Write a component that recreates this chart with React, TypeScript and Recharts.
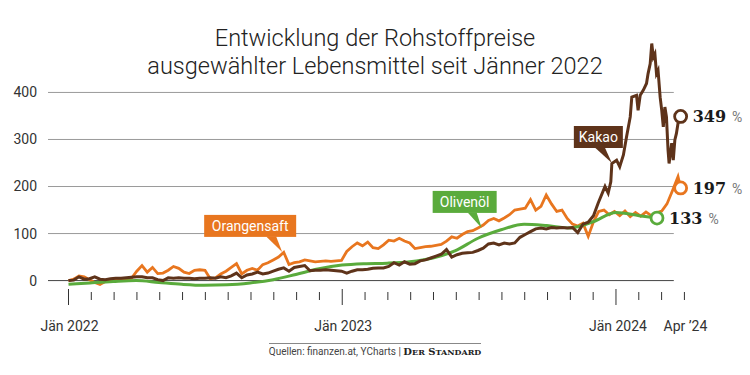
import React from 'react';
import { LineChart, Line, XAxis, YAxis, ReferenceLine, ReferenceDot } from 'recharts';

const ORANGE = '#e8761f';
const GREEN = '#5aab3c';
const BROWN = '#5e331a';

// Veränderung in % seit Jänner 2022, ein Wert pro Woche
const orangeWeekly = [
  0, 3, 10, 8, 2, -4, -8, -2, 0, 1,
  2, 3, 5, 20, 32, 18, 28, 15, 16, 22,
  30, 26, 18, 15, 22, 23, 22, 4, 6, 14,
  20, 28, 36, 14, 22, 26, 22, 34, 38, 44,
  50, 60, 34, 38, 40, 44, 42, 40, 41, 42,
  41, 42, 43, 62, 72, 80, 74, 82, 70, 68,
  76, 86, 84, 90, 84, 80, 68, 70, 72, 73,
  75, 77, 84, 93, 90, 98, 104, 106, 112, 118,
  128, 132, 127, 133, 140, 150, 152, 154, 172, 150,
  158, 182, 163, 147, 150, 132, 120, 116, 122, 94,
  125, 147, 150, 140, 147, 138, 148, 136, 145, 137,
  146, 138, 144, 148, 163, 190,
];
const orangeTail: [number, number][] = [[116.1, 221], [116.6, 197]];

const kakaoWeekly = [
  0, 1, 8, 3, 4, 8, 3, 2, 4, 5,
  5, 6, 7, 8, 8, 6, 6, 2, 0, 6,
  5, 6, 5, 5, 4, 5, 5, 6, 5, 8,
  6, 10, 16, 6, 12, 14, 18, 14, 16, 20,
  24, 27, 20, 28, 30, 32, 21, 22, 22, 23,
  22, 21, 20, 16, 20, 23, 23, 24, 26, 27,
  27, 30, 38, 33, 40, 35, 36, 42, 44, 48,
  52, 56, 66, 50, 55, 58, 59, 60, 64, 69,
  78, 80, 76, 80, 78, 80, 92, 98, 104, 110,
  112, 110, 113, 112, 113, 112, 113, 102, 120, 124,
  138,
];
const kakaoTail: [number, number][] = [
  [100.9, 165], [102.2, 200], [102.8, 186], [103.3, 210], [103.5, 249],
  [104.4, 256], [105.0, 242], [105.7, 267], [106.3, 306], [107.0, 348],
  [107.3, 390], [108.2, 394], [108.5, 362], [108.9, 394], [109.5, 405],
  [110.1, 419], [110.4, 440], [110.8, 461], [111.1, 504], [111.4, 475],
  [111.7, 482], [112.0, 440], [112.3, 447], [112.7, 390], [113.0, 362],
  [113.3, 327], [113.6, 369], [113.9, 348], [114.2, 278], [114.4, 249],
  [114.9, 292], [115.2, 256], [115.5, 299], [115.8, 313], [116.1, 334],
  [116.6, 349],
];

// Olivenöl: geglättet, ca. monatlich
const oliveWeeks = [0, 4.1, 8.5, 12.9, 17.2, 21.6, 25.8, 30.2, 34.6, 39.0, 43.3, 47.7, 52.1, 56.3, 60.7, 65.0, 69.4, 73.6, 78.0, 82.4, 86.8, 91.1, 95.5, 99.9, 104.3, 108.7, 112.1];
const oliveValues = [-8, -5, -2, 0, -4, -8, -10, -9, -5, 2, 13, 25, 33, 36, 37, 40, 48, 63, 90, 108, 120, 117, 112, 125, 145, 138, 133];

const callouts = [
  { name: 'Orangensaft', w: 40.7, v: 61, color: ORANGE, left: 78, right: 14, base: [-16, -6] },
  { name: 'Olivenöl', w: 78.7, v: 112, color: GREEN, left: 49, right: 15, base: [-14, -5] },
  { name: 'Kakao', w: 103.5, v: 250, color: BROWN, left: 38, right: 11, base: [-17, -7] },
];

const yTicks = [0, 100, 200, 300, 400];
const WEEKS_PER_MONTH = 365 / 12 / 7;
const monthTicks = Array.from({ length: 28 }, (_, m) => m * WEEKS_PER_MONTH);
const monthLabels: Record<number, string> = { 0: 'Jän 2022', 12: 'Jän 2023', 24: 'Jän 2024', 27: 'Apr ’24' };

const orangeData = [...orangeWeekly.map((v, w) => ({ w, v })), ...orangeTail.map(([w, v]) => ({ w, v }))];
const kakaoData = [...kakaoWeekly.map((v, w) => ({ w, v })), ...kakaoTail.map(([w, v]) => ({ w, v }))];
const oliveData = oliveWeeks.map((w, i) => ({ w, v: oliveValues[i] }));

const X_MIN = -3.905;
const X_MAX = 120.29;
const GRID_END = 115.3;

const MonthTick = (props: any) => {
  const { x, y, payload } = props;
  const m = Math.round(payload.value / WEEKS_PER_MONTH);
  const isYear = m % 12 === 0;
  const label = monthLabels[m];
  return (
    <g>
      <line x1={x} x2={x} y1={y + (isYear ? -1 : 2)} y2={y + (isYear ? 15 : 10)} stroke="#333" strokeWidth={1} />
      {label && (
        <text x={m === 24 ? x + 2 : x + 1} y={y + 41} textAnchor="middle" fontSize={14} fontFamily="Roboto" fill="#333">
          {label}
        </text>
      )}
    </g>
  );
};

const endMarker = (color: string, value: number) => (props: any) => {
  const { cx, cy } = props;
  return (
    <g>
      <circle cx={cx} cy={cy} r={6} fill="#fff" stroke={color} strokeWidth={2.8} />
      <text x={cx + 12} y={cy + 6}>
        <tspan fontFamily="DejaVu Serif" fontWeight="bold" fontSize={16} fill="#1a1a1a">{value}</tspan>
        <tspan dx={6} fontFamily="Roboto" fontSize={14} fill="#777">%</tspan>
      </text>
    </g>
  );
};

const calloutShape = (c: typeof callouts[number]) => (props: any) => {
  const { cx, cy } = props;
  const top = cy - 37;
  const bottom = cy - 15;
  return (
    <g>
      <rect x={cx - c.left} y={top} width={c.left + c.right} height={bottom - top} fill={c.color} />
      <polygon points={`${cx + c.base[0]},${bottom - 0.5} ${cx + c.base[1]},${bottom - 0.5} ${cx},${cy}`} fill={c.color} />
      <text x={cx - c.left + (c.left + c.right) / 2} y={top + 16} textAnchor="middle" fontSize={14} fontFamily="Roboto" fill="#fff">
        {c.name}
      </text>
    </g>
  );
};

export default function App() {
  const lastK = kakaoData[kakaoData.length - 1];
  const lastO = orangeData[orangeData.length - 1];
  const lastG = oliveData[oliveData.length - 1];
  return (
    <div style={{ position: 'absolute', left: 0, top: 0, width: 750, height: 375, background: '#fff', fontFamily: 'Roboto' }}>
      <div style={{ position: 'absolute', left: 0, top: 24, width: 750, textAlign: 'center', fontSize: 23.5, fontWeight: 300, lineHeight: '28px', color: '#222' }}>
        Entwicklung der Rohstoffpreise
        <br />
        ausgewählter Lebensmittel seit Jänner 2022
      </div>
      <LineChart width={750} height={375} margin={{ top: 36, right: 50, bottom: 0, left: 0 }}>
        <XAxis
          type="number"
          dataKey="w"
          domain={[X_MIN, X_MAX]}
          ticks={monthTicks}
          interval={0}
          height={85}
          axisLine={false}
          tickLine={false}
          tickSize={0}
          tickMargin={0}
          tick={<MonthTick />}
          allowDataOverflow
        />
        <YAxis
          type="number"
          domain={[-20, 520]}
          ticks={yTicks}
          width={48}
          axisLine={false}
          tickLine={false}
          tickSize={0}
          tickMargin={11}
          tick={{ fill: '#333', fontSize: 14, fontFamily: 'Roboto' }}
        />
        {yTicks.map((t) => (
          <ReferenceLine
            key={t}
            segment={[{ x: X_MIN, y: t }, { x: GRID_END, y: t }]}
            stroke={t === 0 ? '#444' : '#9a9a9a'}
            strokeWidth={1}
          />
        ))}
        <Line data={orangeData} dataKey="v" type="linear" stroke={ORANGE} strokeWidth={2.8} dot={false} isAnimationActive={false} />
        <Line data={oliveData} dataKey="v" type="monotone" stroke={GREEN} strokeWidth={3} dot={false} isAnimationActive={false} />
        <Line data={kakaoData} dataKey="v" type="linear" stroke={BROWN} strokeWidth={3} dot={false} isAnimationActive={false} />
        {callouts.map((c) => (
          <ReferenceDot key={c.name} x={c.w} y={c.v} r={0} shape={calloutShape(c)} />
        ))}
        <ReferenceDot x={lastK.w} y={lastK.v} r={6} shape={endMarker(BROWN, lastK.v)} />
        <ReferenceDot x={lastO.w} y={lastO.v} r={6} shape={endMarker(ORANGE, lastO.v)} />
        <ReferenceDot x={lastG.w} y={lastG.v} r={6} shape={endMarker(GREEN, lastG.v)} />
      </LineChart>
      <div style={{ position: 'absolute', left: 0, top: 340, width: 750, textAlign: 'center' }}>
        <span style={{ display: 'inline-block', borderTop: '1px solid #888', paddingTop: 1, fontSize: 10, lineHeight: '13px', color: '#444', fontFamily: 'Roboto' }}>
          Quellen: finanzen.at, YCharts |{' '}
          <span style={{ fontFamily: 'DejaVu Serif', fontWeight: 'bold', color: '#222' }}>
            D<span style={{ fontSize: 8 }}>ER</span> S<span style={{ fontSize: 8 }}>TANDARD</span>
          </span>
        </span>
      </div>
    </div>
  );
}
